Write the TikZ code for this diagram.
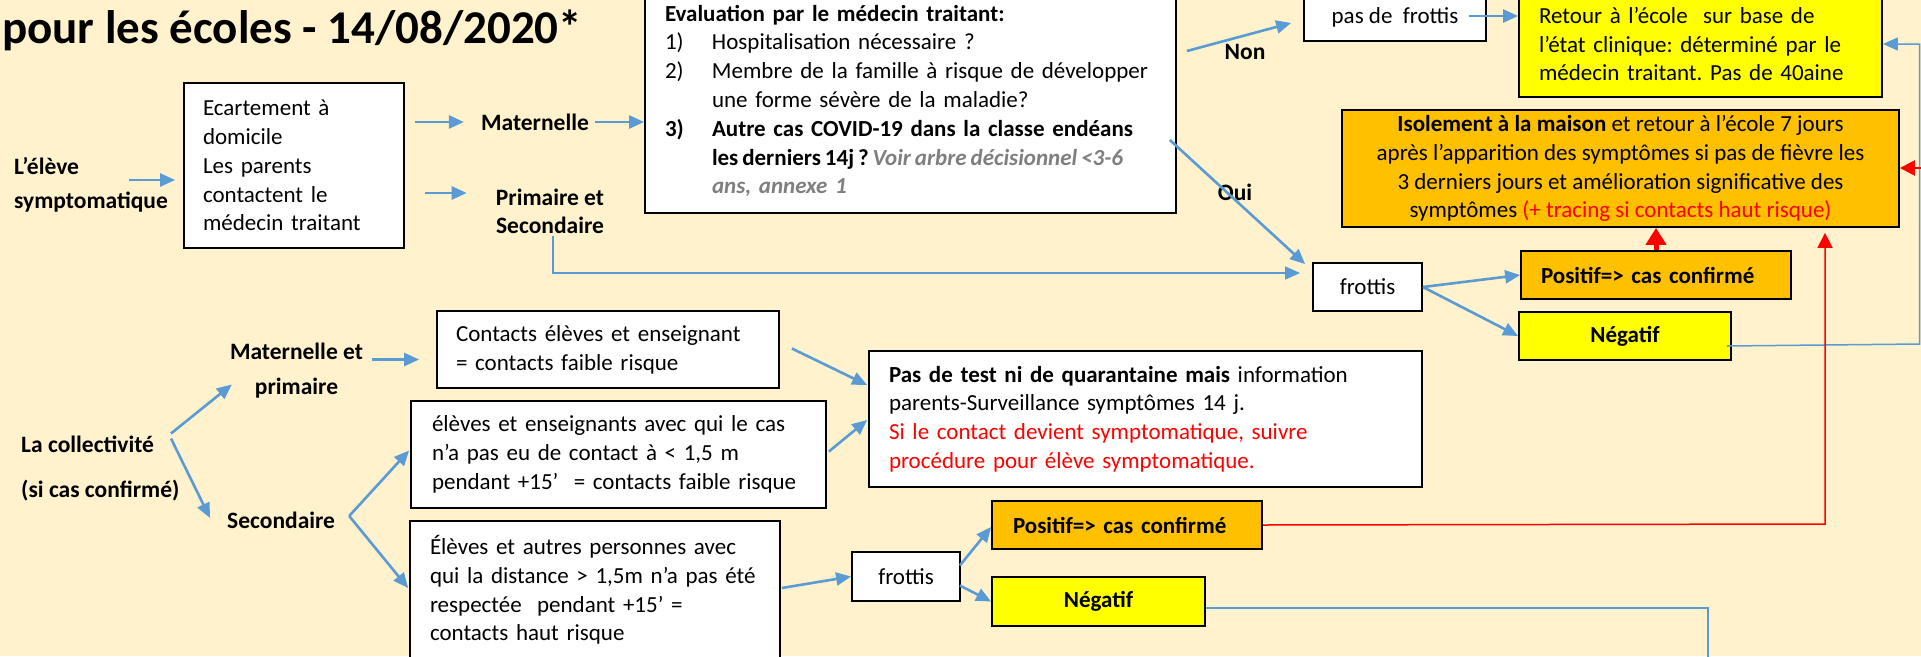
\documentclass[tikz,border=0pt]{standalone}
\usepackage{fontspec}
\setmainfont{Carlito}
\usetikzlibrary{arrows.meta,calc}
\definecolor{bgc}{HTML}{FFF2CC}
\definecolor{ablue}{HTML}{5B9BD5}
\definecolor{orng}{HTML}{FFC000}
\definecolor{yel}{HTML}{FFFF00}
\definecolor{gtxt}{HTML}{7F7F7F}
\definecolor{rline}{HTML}{FF0000}
\newcommand{\bodyf}{\fontsize{23}{28.8}\selectfont}
\newcommand{\lblf}[1]{\fontsize{23.5}{#1}\selectfont\bfseries}
\frenchspacing
\begin{document}
\begin{tikzpicture}[x=1pt,y=-1pt,
  box/.style={draw=black, line width=1.8pt, fill=white, inner sep=0pt, align=left, font=\bodyf},
  lbl/.style={inner sep=0pt, align=center},
  arr/.style={draw=ablue, line width=2.6pt, -{Triangle[length=15pt,width=13pt]}},
  thinarr/.style={draw=ablue, line width=1.5pt, -{Triangle[length=15pt,width=13pt]}},
  thinline/.style={draw=ablue, line width=1.5pt},
  redthin/.style={draw=rline, line width=1.5pt, -{Triangle[length=15pt,width=15pt]}},
  redthick/.style={draw=rline, line width=5pt, -{Triangle[length=17pt,width=20pt]}},
]
\fill[bgc] (0,0) rectangle (1921,656);
\useasboundingbox (0,0) rectangle (1921,656);
\clip (0,0) rectangle (1921,656);

% title
\node[anchor=base west, inner sep=0pt, font=\fontsize{47}{56}\selectfont\bfseries] (title) at (2,43) {pour les écoles - 14/08/2020*};

% top part
\node[box, minimum width=220pt, minimum height=165pt, text width=182pt] (ecart) at (294,165.5) {Ecartement à\\domicile\\Les parents\\contactent le\\médecin traitant};
\node[lbl, anchor=west, align=left, font=\lblf{34}] (eleve) at (14,185) {L’élève\\symptomatique};
\node[lbl, font=\lblf{29}] (mat) at (535,122) {Maternelle};
\node[lbl, font=\lblf{28}] (prim) at (550,211) {Primaire et\\Secondaire};

\node[box, minimum width=531pt, minimum height=224pt, text width=491pt] (eval) at (910.5,101) {%
\mbox{\textbf{Evaluation par le médecin traitant:}}\\
\mbox{\makebox[47pt][l]{1)}Hospitalisation nécessaire ?}\\
\mbox{\makebox[47pt][l]{2)}Membre de la famille à risque de développer}\\
\mbox{\hspace*{47pt}une forme sévère de la maladie?}\\
\mbox{\textbf{\makebox[47pt][l]{3)}Autre cas COVID-19 dans la classe endéans}}\\
\mbox{\spaceskip=0.17em\relax\hspace*{47pt}\textbf{les derniers 14j ? \textcolor{gtxt}{\itshape Voir arbre décisionnel <3-6}}}\\
\mbox{\hspace*{47pt}\textcolor{gtxt}{\bfseries\itshape ans, annexe 1}}};

\node[lbl, font=\lblf{29}] (non) at (1245,52) {Non};
\node[lbl, font=\lblf{29}] (oui) at (1235,192) {Oui};

\node[box, align=center, minimum width=182pt, minimum height=48pt] (pdf) at (1395,17) {pas de\ \ frottis};
\node[box, fill=yel, minimum width=363pt, minimum height=106pt, text width=323pt] (ret) at (1700.5,44) {\mbox{Retour à l’école\ \ sur base de}\\\mbox{l’état clinique: déterminé par le}\\\mbox{médecin traitant. Pas de 40aine}};
\node[box, fill=orng, align=center, minimum width=557pt, minimum height=117pt] (iso) at (1620.5,168.5) {\textbf{Isolement à la maison} et retour à l’école 7 jours\\après l’apparition des symptômes si pas de fièvre les\\3 derniers jours et amélioration significative des\\symptômes \textcolor{rline}{(+ tracing si contacts haut risque)}};

\node[box, align=center, minimum width=109pt, minimum height=48pt] (frot1) at (1367.5,287) {frottis};
\node[box, fill=orng, minimum width=270pt, minimum height=48pt, text width=230pt, font=\bodyf\bfseries] (pos1) at (1656,275) {\mbox{Positif=> cas confirmé}};
\node[box, fill=yel, align=center, minimum width=212pt, minimum height=48pt, font=\bodyf\bfseries] (neg1) at (1625,336) {Négatif};

% bottom part
\node[lbl, font=\lblf{35}] (matp) at (296.5,370.5) {Maternelle et\\primaire};
\node[lbl, anchor=west, align=left, font=\lblf{45}] (coll) at (21,468.5) {La collectivité\\(si cas confirmé)};
\node[lbl, anchor=west, font=\lblf{29}] (sec) at (227,520) {Secondaire};

\node[box, minimum width=342pt, minimum height=77pt, text width=304pt] (cont) at (608,349.5) {\mbox{Contacts élèves et enseignant}\\\mbox{= contacts faible risque}};
\node[box, minimum width=415pt, minimum height=107pt, text width=373pt] (elev) at (618.5,454.5) {\mbox{élèves et enseignants avec qui le cas}\\\mbox{n’a pas eu de contact à < 1,5 m}\\\mbox{pendant +15’\ \ = contacts faible risque}};
\node[box, minimum width=370pt, minimum height=138pt, text width=330pt] (autr) at (595,590) {\mbox{Élèves et autres personnes avec}\\\mbox{qui la distance > 1,5m n’a pas été}\\\mbox{respectée\ \ pendant +15’ =}\\\mbox{contacts haut risque}};
\node[box, minimum width=553pt, minimum height=136pt, text width=513pt] (pdt) at (1145.5,419) {\mbox{\textbf{Pas de test ni de quarantaine mais} information}\\\mbox{parents-Surveillance symptômes 14 j.}\\\mbox{\textcolor{rline}{Si le contact devient symptomatique, suivre}}\\\mbox{\textcolor{rline}{procédure pour élève symptomatique.}}};
\node[box, align=center, minimum width=108pt, minimum height=49pt] (frot2) at (906,576.5) {frottis};
\node[box, fill=orng, minimum width=270pt, minimum height=48pt, text width=228pt, font=\bodyf\bfseries] (pos2) at (1127,525) {\mbox{Positif=> cas confirmé}};
\node[box, fill=yel, align=center, minimum width=213pt, minimum height=49pt, font=\bodyf\bfseries] (neg2) at (1098.5,601.5) {Négatif};

% connectors top
\draw[arr] ($(eleve.west)+(115,-5)$) -- ($(ecart.west)+(-8,14.5)$);
\draw[arr] ($(ecart.east|-mat.west)+(10,0)$) -- ($(mat.west)+(-17,0)$);
\draw[arr] ($(mat.east)+(6,0)$) -- (eval.west|-mat.east);
\draw[arr] ($(ecart.east|-prim.west)+(20,-18)$) -- ($(prim.west)+(-29,-18)$);
\draw[thinarr] ($(prim.south)+(3,2)$) |- ($(frot1.west)+(-12,-14)$);
\draw[arr] ($(eval.east)+(10,-50)$) -- ($(pdf.west)+(-12,6)$);
\draw[arr] ($(eval.east)+(-7,39)$) -- ($(frot1.north west)+(-7,2)$);
\draw[arr] ($(pdf.east)+(-18,-1)$) -- ($(ret.west|-pdf.east)+(0,-1)$);
\draw[arr] (frot1.east) -- (pos1.west);
\draw[arr] (frot1.east) -- (neg1.west);
\coordinate (rc1) at (1919.5,344);
\draw[thinarr] ($(neg1.east)+(-5,10)$) -- (rc1) |- (ret.east);

% red
\draw[redthick] (pos1.north) -- (pos1.north|-iso.south);
\coordinate (rc2) at (1825,524);
\draw[redthin] (pos2.east) -- (rc2) -- ($(rc2|-iso.south)+(0,5)$);
\coordinate (rin) at (1921,168);
\draw[draw=rline, line width=2.5pt, -{Triangle[length=15pt,width=15pt]}] (rin) -- (iso.east|-rin);

% connectors bottom
\draw[arr] ($(coll.west)+(150,-35)$) -- ($(matp.west)+(2,14)$);
\draw[arr] ($(coll.west)+(150,-30)$) -- ($(sec.west)+(-17,-2)$);
\draw[arr] ($(matp.east)+(9,-11)$) -- ($(cont.west)+(-17,10)$);
\draw[arr] ($(sec.east)+(14,-4)$) -- ($(elev.west)+(-1,-4)$);
\draw[arr] ($(sec.east)+(14,-4)$) -- ($(autr.west)+(-1,-2)$);
\draw[arr] ($(cont.east)+(12,-1)$) -- ($(pdt.west)+(-1,-34)$);
\draw[arr] ($(elev.east)+(2,-3)$) -- ($(pdt.west)+(-1,1)$);
\draw[arr] ($(autr.east)+(1,-2)$) -- (frot2.west);
\draw[arr] ($(frot2.east)+(-1,-11)$) -- ($(pos2.west)+(0,2)$);
\draw[arr] ($(frot2.east)+(-1,9)$) -- (neg2.west);
\coordinate (bc1) at (1708,608);
\coordinate (bc2) at (1708,660);
\draw[thinline] ($(neg2.east)+(0,6.5)$) -- (bc1) -- (bc2);
\end{tikzpicture}
\end{document}
